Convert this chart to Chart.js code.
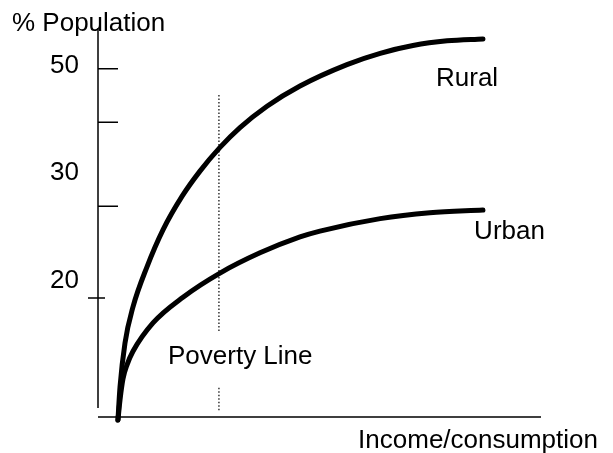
<!DOCTYPE html>
<html>
<head>
<meta charset="utf-8">
<script src="https://cdn.jsdelivr.net/npm/chart.js@4/dist/chart.umd.min.js"></script>
<style>
  html, body { margin: 0; padding: 0; background: #fff; }
  canvas { display: block; }
</style>
</head>
<body>
<canvas id="chart" width="613" height="453"></canvas>
<script>
'use strict';

// Kurven (schematisch, x/y in 0..100 Einheiten)
const ruralX = [4.5, 4.97, 6.09, 7.9, 11.06, 14.67, 18.96, 23.02, 27.54, 32.05, 38.15, 45.6, 56.2, 63.7, 71.1, 78.8, 86.9];
const ruralY = [-0.8, 7.7, 19.0, 28.3, 38.6, 48.1, 56.7, 63.2, 69.3, 74.4, 79.9, 85.1, 90.6, 93.5, 95.5, 96.7, 97.2];

const urbanX = [4.5, 4.97, 5.64, 6.55, 7.9, 12.42, 19.19, 27.54, 36.57, 45.6, 50.1, 63.7, 74.9, 86.9];
const urbanY = [-0.8, 4.4, 9.8, 13.4, 16.9, 24.2, 30.8, 37.0, 42.2, 46.3, 47.8, 51.0, 52.5, 53.2];

// Armutsgrenze
const povertyX = 27.3;
const povertyY = [82.8, 21.6, null, 7.5, 1.5];

// Y-Achse: Striche und Beschriftungen
const yTickValues = [89.5, 75.8, 54.2, 30.6];
const yTickLabels = ['50', '30', '20'];
const yTickLabelValues = [88.5, 60.8, 33.2];

const toPoints = (xs, ys) => ys.map((y, i) => ({ x: xs[i], y: y }));

const FONT = '26px "Liberation Sans", Arial, sans-serif';

const axesPlugin = {
  id: 'axes',
  afterDatasetsDraw(chart) {
    const { ctx, chartArea } = chart;
    const xs = chart.scales.x;
    const ys = chart.scales.y;
    const x0 = xs.getPixelForValue(0);
    const y0 = ys.getPixelForValue(0);

    ctx.save();
    ctx.strokeStyle = '#000';
    ctx.lineWidth = 1.5;
    ctx.beginPath();
    // Y-Achse
    ctx.moveTo(x0, chartArea.top);
    ctx.lineTo(x0, ys.getPixelForValue(2.3));
    // X-Achse
    ctx.moveTo(x0, y0);
    ctx.lineTo(chartArea.right, y0);
    // Striche
    yTickValues.forEach((v, i) => {
      const py = ys.getPixelForValue(v);
      if (i === yTickValues.length - 1) {
        ctx.moveTo(x0 - 10, py);
        ctx.lineTo(x0 + 7, py);
      } else {
        ctx.moveTo(x0, py);
        ctx.lineTo(x0 + 20, py);
      }
    });
    ctx.stroke();

    ctx.fillStyle = '#000';
    ctx.font = FONT;
    ctx.textBaseline = 'alphabetic';
    ctx.textAlign = 'right';
    yTickLabels.forEach((t, i) => {
      ctx.fillText(t, x0 - 19, ys.getPixelForValue(yTickLabelValues[i]));
    });

    ctx.textAlign = 'left';
    ctx.fillText('% Population', 12, ys.getPixelForValue(99.2));
    ctx.fillText('Rural', xs.getPixelForValue(76.3), ys.getPixelForValue(85.1));
    ctx.fillText('Urban', xs.getPixelForValue(84.9), ys.getPixelForValue(45.8));
    ctx.fillText('Poverty Line', xs.getPixelForValue(15.8), ys.getPixelForValue(13.6));
    ctx.textAlign = 'right';
    ctx.fillText('Income/consumption', 598, ys.getPixelForValue(-8));
    ctx.restore();
  },
};

const curveStyle = {
  borderColor: '#000',
  borderWidth: 5,
  borderCapStyle: 'round',
  borderJoinStyle: 'round',
  cubicInterpolationMode: 'monotone',
  pointRadius: 0,
  clip: false,
};

new Chart(document.getElementById('chart'), {
  type: 'line',
  data: {
    datasets: [
      { label: 'Rural', data: toPoints(ruralX, ruralY), ...curveStyle },
      { label: 'Urban', data: toPoints(urbanX, urbanY), ...curveStyle },
      {
        label: 'Poverty Line',
        data: povertyY.map(y => ({ x: povertyX, y: y })),
        borderColor: '#000',
        borderWidth: 1.2,
        borderDash: [1.5, 2],
        pointRadius: 0,
        spanGaps: false,
        clip: false,
      },
    ],
  },
  options: {
    responsive: false,
    animation: false,
    layout: { padding: { left: 98, right: 72, top: 28, bottom: 36 } },
    plugins: {
      legend: { display: false },
      tooltip: { enabled: false },
    },
    scales: {
      x: { type: 'linear', min: 0, max: 100, display: false },
      y: { type: 'linear', min: 0, max: 100, display: false },
    },
  },
  plugins: [axesPlugin],
});
</script>
</body>
</html>
